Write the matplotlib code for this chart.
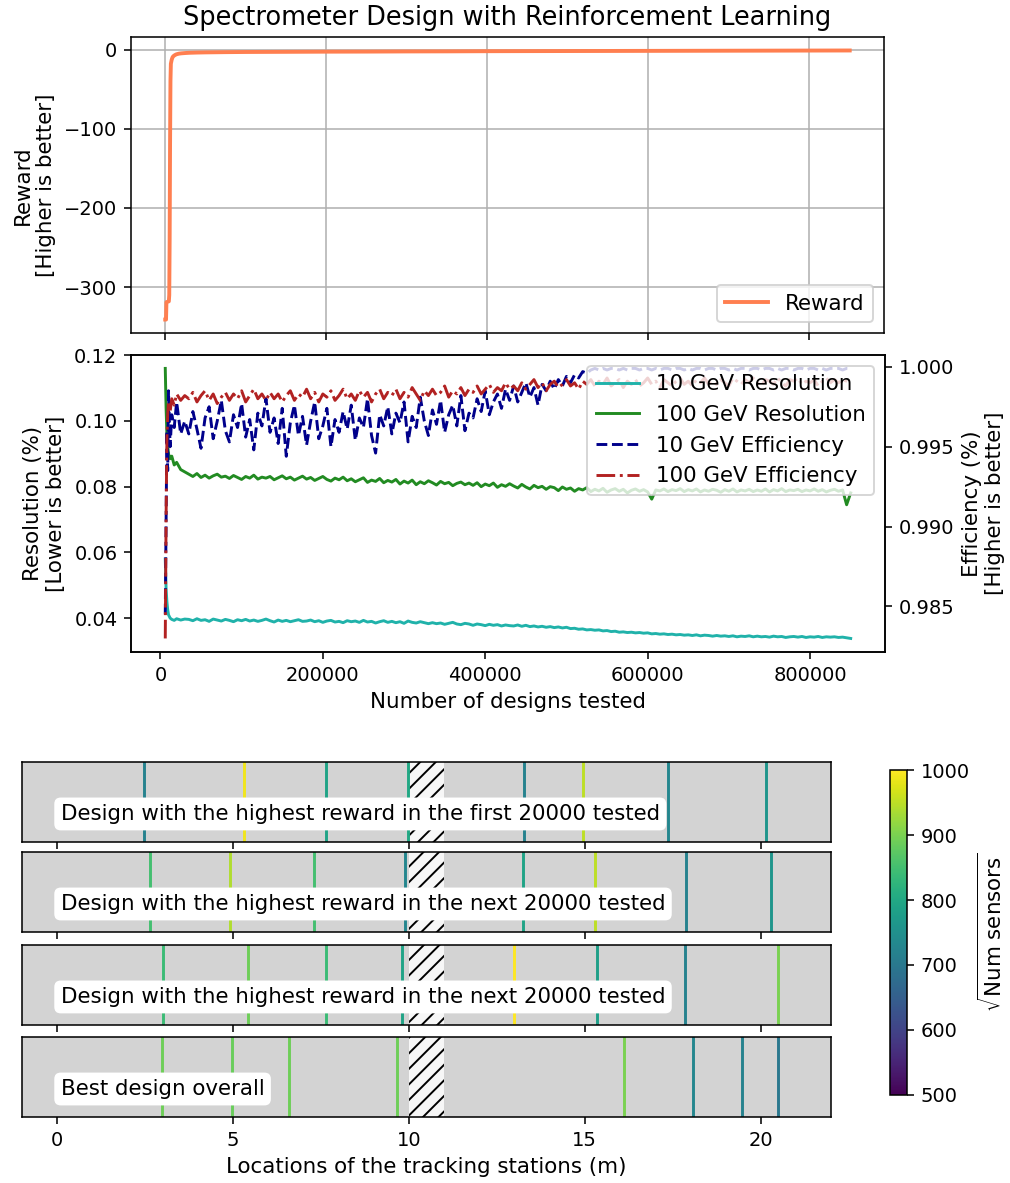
import numpy as np
import matplotlib
matplotlib.use('Agg')
import matplotlib.pyplot as plt
from matplotlib import cm
from matplotlib.colors import Normalize

plt.rcParams['font.size'] = 11
plt.rcParams['xtick.labelsize'] = 10
plt.rcParams['ytick.labelsize'] = 10

# --- reward (top panel) ---
reward_x = [0, 1000, 1500, 4500, 5000, 5500, 6000, 6500, 7000, 8000, 9000, 10000, 12000, 14000,
            17000, 20000, 25000, 30000, 40000, 50000, 75000, 100000,
            150000, 200000, 250000, 300000, 350000, 400000, 450000, 500000, 550000, 600000,
            650000, 700000, 750000, 800000, 850000]
reward_y = [-341, -341, -319, -318, -310, -240, -120, -40, -18, -13, -10, -8.5, -7, -6,
            -5.2, -4.8, -4.4, -4.1, -3.8, -3.6, -3.3, -3.1,
            -2.9, -2.7, -2.6, -2.4, -2.3, -2.1, -2.0, -1.9, -1.8, -1.7,
            -1.6, -1.5, -1.4, -1.3, -1.2]

# --- resolution / efficiency (middle panel) ---
designs = np.concatenate([[6000, 7000, 8000, 9000, 10000, 12000, 14000, 17000, 20000, 25000, 30000],
                          np.arange(35000, 855000, 5000)])

res10 = [0.0580, 0.0490, 0.0450, 0.0425, 0.0410, 0.0400, 0.0396, 0.0393, 0.0398, 0.0394, 0.0397,
         0.0396, 0.0392, 0.0398, 0.0393, 0.0395, 0.0390, 0.0397, 0.0394, 0.0391, 0.0396,
         0.0393, 0.0389, 0.0395, 0.0392, 0.0396, 0.0391, 0.0394, 0.0390, 0.0393, 0.0397,
         0.0392, 0.0388, 0.0394, 0.0390, 0.0393, 0.0389, 0.0392, 0.0395, 0.0390, 0.0391,
         0.0394, 0.0389, 0.0392, 0.0387, 0.0391, 0.0393, 0.0388, 0.0390, 0.0386, 0.0392,
         0.0389, 0.0391, 0.0387, 0.0393, 0.0388, 0.0390, 0.0385, 0.0389, 0.0392, 0.0387,
         0.0390, 0.0386, 0.0389, 0.0384, 0.0391, 0.0387, 0.0385, 0.0389, 0.0386, 0.0383,
         0.0386, 0.0383, 0.0385, 0.0381, 0.0384, 0.0387, 0.0382, 0.0380, 0.0384, 0.0382,
         0.0378, 0.0382, 0.0380, 0.0377, 0.0381, 0.0378, 0.0380, 0.0376, 0.0379, 0.0377,
         0.0376, 0.0379, 0.0375, 0.0378, 0.0374, 0.0376, 0.0373, 0.0375, 0.0372, 0.0374,
         0.0371, 0.0373, 0.0370, 0.0372, 0.0368, 0.0369, 0.0366, 0.0367, 0.0364, 0.0365,
         0.0363, 0.0364, 0.0361, 0.0362, 0.0359, 0.0360, 0.0357, 0.0358, 0.0356, 0.0357,
         0.0355, 0.0356, 0.0354, 0.0355, 0.0352, 0.0353, 0.0351, 0.0352, 0.0350, 0.0351,
         0.0349, 0.0350, 0.0348, 0.0349, 0.0347, 0.0349, 0.0346, 0.0348, 0.0347, 0.0345,
         0.0347, 0.0345, 0.0346, 0.0344, 0.0346, 0.0343, 0.0345, 0.0344, 0.0346, 0.0343,
         0.0345, 0.0343, 0.0344, 0.0342, 0.0345, 0.0343, 0.0344, 0.0341, 0.0343, 0.0344,
         0.0342, 0.0344, 0.0341, 0.0343, 0.0342, 0.0344, 0.0341, 0.0343, 0.0342, 0.0343,
         0.0341, 0.0342, 0.0340, 0.0338]

res100 = [0.1160, 0.1040, 0.0960, 0.0925, 0.0900, 0.0885, 0.0893, 0.0866, 0.0874, 0.0852, 0.0845,
          0.0838, 0.0831, 0.0840, 0.0828, 0.0835, 0.0826, 0.0833, 0.0838, 0.0829, 0.0832,
          0.0825, 0.0834, 0.0828, 0.0822, 0.0831, 0.0826, 0.0835, 0.0823, 0.0829, 0.0826,
          0.0831, 0.0821, 0.0827, 0.0833, 0.0824, 0.0829, 0.0820, 0.0826, 0.0832, 0.0823,
          0.0828, 0.0819, 0.0825, 0.0831, 0.0822, 0.0817, 0.0826, 0.0821, 0.0829, 0.0818,
          0.0824, 0.0815, 0.0821, 0.0827, 0.0813, 0.0820, 0.0816, 0.0825, 0.0812, 0.0819,
          0.0814, 0.0822, 0.0808, 0.0817, 0.0811, 0.0820, 0.0806, 0.0815, 0.0809, 0.0818,
          0.0812, 0.0805, 0.0816, 0.0809, 0.0813, 0.0803, 0.0810, 0.0814, 0.0806, 0.0811,
          0.0804, 0.0812, 0.0800, 0.0808, 0.0803, 0.0811, 0.0798, 0.0806, 0.0801, 0.0809,
          0.0802, 0.0796, 0.0807, 0.0799, 0.0793, 0.0804, 0.0797, 0.0801, 0.0792, 0.0800,
          0.0797, 0.0788, 0.0799, 0.0792, 0.0796, 0.0786, 0.0794, 0.0790, 0.0797, 0.0785,
          0.0792, 0.0787, 0.0795, 0.0783, 0.0790, 0.0794, 0.0786, 0.0792, 0.0781, 0.0789,
          0.0793, 0.0786, 0.0791, 0.0784, 0.0762, 0.0790, 0.0787, 0.0793, 0.0785, 0.0791,
          0.0788, 0.0794, 0.0785, 0.0791, 0.0787, 0.0793, 0.0784, 0.0790, 0.0786, 0.0792,
          0.0789, 0.0783, 0.0791, 0.0786, 0.0793, 0.0784, 0.0790, 0.0787, 0.0792, 0.0785,
          0.0790, 0.0786, 0.0793, 0.0784, 0.0791, 0.0787, 0.0794, 0.0785, 0.0790, 0.0788,
          0.0792, 0.0785, 0.0790, 0.0787, 0.0793, 0.0786, 0.0791, 0.0784, 0.0789, 0.0792,
          0.0786, 0.0790, 0.0745, 0.0781]

eff10 = [0.9845, 0.9905, 0.9960, 0.9935, 0.9985, 0.9950, 0.9970, 0.9962, 0.9978, 0.9958, 0.9966,
         0.9958, 0.9972, 0.9961, 0.9949, 0.9968, 0.9975, 0.9955, 0.9966, 0.9979, 0.9960,
         0.9953, 0.9970, 0.9962, 0.9977, 0.9956, 0.9967, 0.9948, 0.9971, 0.9963, 0.9980,
         0.9959, 0.9968, 0.9952, 0.9974, 0.9944, 0.9965, 0.9976, 0.9957, 0.9969, 0.9951,
         0.9966, 0.9978, 0.9955, 0.9963, 0.9974, 0.9950, 0.9967, 0.9959, 0.9972, 0.9961,
         0.9976, 0.9954, 0.9968, 0.9962, 0.9980, 0.9957, 0.9946, 0.9970, 0.9963, 0.9975,
         0.9958, 0.9971, 0.9965, 0.9978, 0.9953, 0.9969, 0.9962, 0.9981, 0.9966, 0.9957,
         0.9973, 0.9964, 0.9979, 0.9959, 0.9970, 0.9976, 0.9963, 0.9982, 0.9960, 0.9971,
         0.9968, 0.9980, 0.9972, 0.9985, 0.9970, 0.9978, 0.9983, 0.9974, 0.9986, 0.9979,
         0.9988, 0.9978, 0.9984, 0.9990, 0.9981, 0.9987, 0.9976, 0.9989, 0.9985, 0.9991,
         0.9986, 0.9992, 0.9988, 0.9994, 0.9990, 0.9995, 0.9993, 0.9997, 0.9996, 0.9998,
         0.9999, 0.9998, 0.9999, 0.9998, 0.9999, 0.9999, 0.9998, 0.9999, 0.9998, 0.9999,
         0.9999, 0.9998, 0.9999, 0.9999, 0.9998, 0.9999, 0.9998, 0.9999, 0.9999, 0.9998,
         0.9999, 0.9999, 0.9998, 0.9999, 0.9998, 0.9999, 0.9999, 0.9998, 0.9999, 0.9999,
         0.9998, 0.9999, 0.9999, 0.9998, 0.9999, 0.9998, 0.9999, 0.9999, 0.9998, 0.9999,
         0.9999, 0.9998, 0.9999, 0.9999, 0.9998, 0.9999, 0.9998, 0.9999, 0.9999, 0.9998,
         0.9999, 0.9999, 0.9998, 0.9999, 0.9999, 0.9998, 0.9999, 0.9998, 0.9999, 0.9999,
         0.9999, 0.9998, 0.9999, 0.9999]

eff100 = [0.9830, 0.9905, 0.9955, 0.9970, 0.9978, 0.9972, 0.9980, 0.9976, 0.9983, 0.9979, 0.9982,
          0.9980, 0.9984, 0.9978, 0.9982, 0.9985, 0.9979, 0.9983, 0.9977, 0.9981, 0.9984,
          0.9979, 0.9983, 0.9980, 0.9985, 0.9978, 0.9982, 0.9986, 0.9980, 0.9983, 0.9979,
          0.9984, 0.9980, 0.9983, 0.9978, 0.9982, 0.9985, 0.9979, 0.9983, 0.9981, 0.9986,
          0.9980, 0.9984, 0.9978, 0.9983, 0.9981, 0.9985, 0.9979, 0.9982, 0.9986, 0.9980,
          0.9983, 0.9979, 0.9985, 0.9981, 0.9984, 0.9978, 0.9983, 0.9986, 0.9980, 0.9984,
          0.9982, 0.9986, 0.9980, 0.9984, 0.9981, 0.9987, 0.9983, 0.9979, 0.9985, 0.9982,
          0.9986, 0.9982, 0.9984, 0.9988, 0.9981, 0.9985, 0.9983, 0.9987, 0.9982, 0.9986,
          0.9984, 0.9988, 0.9983, 0.9986, 0.9989, 0.9984, 0.9987, 0.9985, 0.9990, 0.9986,
          0.9988, 0.9985, 0.9990, 0.9986, 0.9989, 0.9992, 0.9987, 0.9990, 0.9985, 0.9989,
          0.9991, 0.9987, 0.9989, 0.9992, 0.9988, 0.9990, 0.9986, 0.9991, 0.9989, 0.9992,
          0.9988, 0.9991, 0.9989, 0.9993, 0.9988, 0.9990, 0.9992, 0.9987, 0.9991, 0.9989,
          0.9992, 0.9988, 0.9990, 0.9993, 0.9989, 0.9991, 0.9987, 0.9992, 0.9990, 0.9988,
          0.9991, 0.9993, 0.9989, 0.9991, 0.9988, 0.9992, 0.9990, 0.9993, 0.9989, 0.9991,
          0.9989, 0.9992, 0.9990, 0.9988, 0.9993, 0.9991, 0.9989, 0.9992, 0.9990, 0.9993,
          0.9990, 0.9988, 0.9992, 0.9991, 0.9989, 0.9993, 0.9990, 0.9988, 0.9992, 0.9991,
          0.9993, 0.9989, 0.9991, 0.9990, 0.9992, 0.9988, 0.9991, 0.9993, 0.9990, 0.9992,
          0.9990, 0.9992, 0.9991, 0.9990]

# --- detector designs (bottom strips) ---
design_labels = ['Design with the highest reward in the first 20000 tested',
                 'Design with the highest reward in the next 20000 tested',
                 'Design with the highest reward in the next 20000 tested',
                 'Best design overall']
station_pos = [[2.48, 5.32, 7.65, 9.98, 13.26, 14.94, 17.36, 20.15],
               [2.63, 4.90, 7.30, 9.89, 13.23, 15.30, 17.89, 20.29],
               [3.00, 5.43, 7.63, 9.79, 13.00, 15.34, 17.85, 20.50],
               [2.98, 4.97, 6.60, 9.67, 16.11, 18.08, 19.48, 20.48]]
station_sensors = [[720, 990, 790, 800, 720, 950, 730, 760],
                   [850, 940, 850, 730, 790, 950, 720, 760],
                   [840, 890, 840, 790, 1000, 780, 720, 900],
                   [890, 885, 890, 890, 900, 730, 720, 700]]
magnet_start, magnet_end = 10, 11

fig = plt.figure(figsize=(1010/140, 1183/140), dpi=140)

ax1 = fig.add_axes([0.1297, 0.7185, 0.7455, 0.2502])
ax1.plot(reward_x, reward_y, color='coral', lw=2, label='Reward')
ax1.grid(True)
ax1.tick_params(labelbottom=False)
ax1.set_ylabel('Reward\n[Higher is better]')
ax1.set_title('Spectrometer Design with Reinforcement Learning', fontsize='large')
ax1.legend(loc='lower right')

ax2 = fig.add_axes([0.1297, 0.4489, 0.7465, 0.2511])
l1, = ax2.plot(designs, res10, color='lightseagreen', lw=1.5, label='10 GeV Resolution')
l2, = ax2.plot(designs, res100, color='forestgreen', lw=1.5, label='100 GeV Resolution')
ax2.set_ylabel('Resolution (%)\n[Lower is better]')
ax2.set_xlabel('Number of designs tested')
ax3 = ax2.twinx()
l3, = ax3.plot(designs, eff10, color='darkblue', ls='--', lw=1.5, label='10 GeV Efficiency')
l4, = ax3.plot(designs, eff100, color='firebrick', ls='-.', lw=1.5, label='100 GeV Efficiency')
ax3.set_ylabel('Efficiency (%)\n[Higher is better]')
ax3.legend([l1, l2, l3, l4], [l.get_label() for l in [l1, l2, l3, l4]], loc='upper right')

cmap = plt.get_cmap('viridis')
norm = Normalize(500, 1000)
bottoms = [0.2883, 0.2122, 0.1336, 0.0558]
for i in range(4):
    ax = fig.add_axes([0.0218, bottoms[i], 0.801, 0.0676])
    ax.set_facecolor('lightgray')
    ax.axvspan(magnet_start, magnet_end, facecolor='#f7f7f7', edgecolor='black', hatch='///', lw=0)
    for p, s in zip(station_pos[i], station_sensors[i]):
        ax.axvline(p, color=cmap(norm(s)), lw=1.5)
    ax.set_xlim(-1, 22)
    ax.set_ylim(0, 1)
    ax.set_yticks([])
    ax.set_xticks([0, 5, 10, 15, 20])
    ax.text(0.1, 0.35, design_labels[i], va='center', ha='left',
            bbox=dict(facecolor='white', edgecolor='none', boxstyle='round'))
    if i < 3:
        ax.tick_params(labelbottom=False)
    else:
        ax.set_xlabel('Locations of the tracking stations (m)')

cax = fig.add_axes([0.8812, 0.0744, 0.0168, 0.2747])
sm = cm.ScalarMappable(norm=norm, cmap=cmap)
cb = fig.colorbar(sm, cax=cax)
cb.set_label(r'$\sqrt{\mathrm{Num\ sensors}}$')

plt.savefig('out.png', dpi=140)
